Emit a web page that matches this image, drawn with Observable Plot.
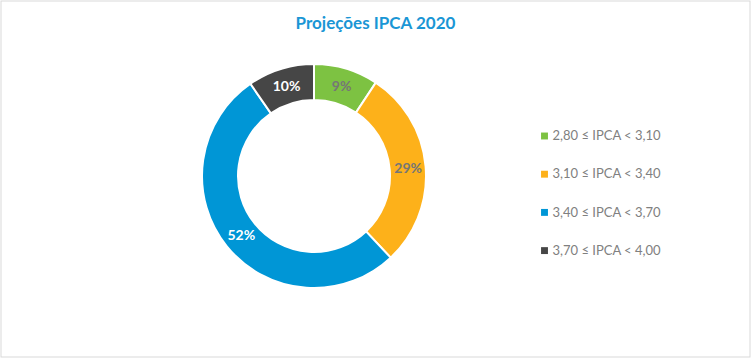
<!DOCTYPE html>
<html><head><meta charset="utf-8">
<script src="https://cdn.jsdelivr.net/npm/d3@7"></script>
<script src="https://cdn.jsdelivr.net/npm/@observablehq/plot@0.6"></script>
<style>body{margin:0;background:#fff} svg{display:block}</style>
</head><body><div id="chart"></div>
<script>
const categories = ["2,80 ≤ IPCA < 3,10", "3,10 ≤ IPCA < 3,40", "3,40 ≤ IPCA < 3,70", "3,70 ≤ IPCA < 4,00"];
const shares = [9.3, 28.7, 52.4, 9.6];
const colors = ["#7DC242", "#FDB11A", "#0096D6", "#464646"];
const labelColors = ["#767676", "#767676", "#ffffff", "#ffffff"];
const title = "Projeções IPCA 2020";

const W = 751, H = 358, cx = 314, cy = 176, rOuter = 112, rInner = 76;
const data = categories.map((c, i) => ({category: c, share: shares[i], labelColor: labelColors[i], order: i}));
const pie = d3.pie().value(d => d.share).sort(null);
const arcs = pie(data);
const arcGen = d3.arc().innerRadius(rInner).outerRadius(rOuter);
const rMid = (rInner + rOuter) / 2;
const labelArc = d3.arc().innerRadius(rMid).outerRadius(rMid);
const labels = arcs.map(a => {
  const [x, y] = labelArc.centroid(a);
  return {x: cx + x, y: cy + y, text: Math.round(a.data.share) + "%", color: a.data.labelColor};
});

function donutMark(index, scales, values, dimensions, context) {
  const g = d3.create("svg:g")
    .attr("transform", `translate(${scales.x(cx)},${scales.y(cy)})`);
  g.selectAll("path").data(arcs).join("path")
    .attr("d", arcGen)
    .attr("fill", a => scales.color(a.data.category))
    .attr("stroke", "#fff")
    .attr("stroke-width", 2);
  return g.node();
}

const legendX = 544, legendY0 = 135.5, legendStep = 38.2;

const chart = Plot.plot({
  width: W, height: H,
  margin: 0,
  style: {background: "#fff", fontFamily: "Lato"},
  x: {domain: [0, W], range: [0, W], axis: null},
  y: {domain: [0, H], range: [0, H], axis: null},
  color: {domain: categories, range: colors},
  marks: [
    Plot.frame({stroke: "#d9d9d9", insetLeft: 0.5, insetTop: 0.5, insetRight: 1.5, insetBottom: 1.5}),
    donutMark,
    Plot.text(labels, {x: "x", y: "y", text: "text", fill: "color", fontSize: 14, fontWeight: "bold", fontFamily: "Lato"}),
    Plot.text([title], {x: 375, y: 23, text: d => d, fill: "#1A96D5", fontSize: 17, fontWeight: "bold", fontFamily: "Lato"}),
    Plot.dot(data, {x: legendX, y: d => legendY0 + d.order * legendStep, symbol: "square", fill: "category", r: 3.9}),
    Plot.text(data, {x: legendX + 8, y: d => legendY0 + d.order * legendStep, text: "category", textAnchor: "start", fill: "#808080", fontSize: 13, fontFamily: "Lato"})
  ]
});
document.getElementById("chart").append(chart);
</script>
</body></html>
